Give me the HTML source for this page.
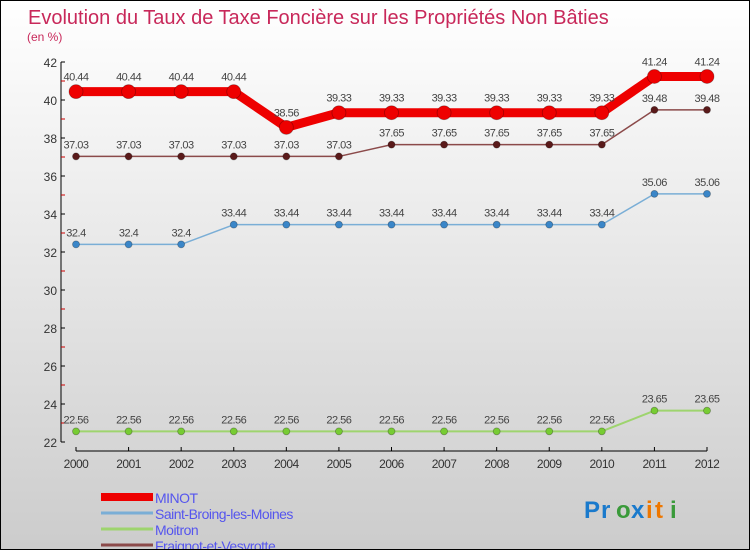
<!DOCTYPE html>
<html><head><meta charset="utf-8"><style>
body{margin:0}
#c{width:748px;height:548px;border:1px solid #000;background:linear-gradient(#fff,#f0f0f0 30%,#ccc);position:relative;font-family:"Liberation Sans",sans-serif;overflow:hidden}
</style></head><body>
<div id="c">
<svg id="s" width="748" height="548"></svg>
</div>
<script>
const years=[2000,2001,2002,2003,2004,2005,2006,2007,2008,2009,2010,2011,2012];
const minot=[40.44,40.44,40.44,40.44,38.56,39.33,39.33,39.33,39.33,39.33,39.33,41.24,41.24];
const stBroing=[32.4,32.4,32.4,33.44,33.44,33.44,33.44,33.44,33.44,33.44,33.44,35.06,35.06];
const moitron=[22.56,22.56,22.56,22.56,22.56,22.56,22.56,22.56,22.56,22.56,22.56,23.65,23.65];
const fraignot=[37.03,37.03,37.03,37.03,37.03,37.03,37.65,37.65,37.65,37.65,37.65,39.48,39.48];
const yTicks=[22,24,26,28,30,32,34,36,38,40,42];
const series=[
 {name:'Fraignot-et-Vesvrotte',vals:fraignot,color:'#8b4a4a',w:1.5,dot:'#5a1a1a',r:3.5},
 {name:'Moitron',vals:moitron,color:'#9ed46e',w:2,dot:'#77cc33',r:3.5},
 {name:'Saint-Broing-les-Moines',vals:stBroing,color:'#7aaed6',w:1.5,dot:'#3a86c8',r:3.5},
 {name:'MINOT',vals:minot,color:'#ee0000',w:9,dot:'#ee0000',r:7}
];
const legend=['MINOT','Saint-Broing-les-Moines','Moitron','Fraignot-et-Vesvrotte'];
const legColors=['#ee0000','#7aaed6','#9ed46e','#8b4a4a'];
const NS='http://www.w3.org/2000/svg';
const s=document.getElementById('s');
const X=i=>75+i*(631/12);
const Y=v=>441-(v-22)*19;
function el(t,a,txt){const e=document.createElementNS(NS,t);for(const k in a)e.setAttribute(k,a[k]);if(txt!==undefined)e.textContent=txt;s.appendChild(e);return e;}
let t=el('text',{x:27,y:23,'font-size':20,fill:'#c8285a'},'Evolution du Taux de Taxe Foncière sur les Propriétés Non Bâties');

t=el('text',{x:26,y:40,'font-size':12,fill:'#c8285a'},'(en %)');

let a=el('line',{x1:60,y1:61,x2:60,y2:441,stroke:'#000','stroke-width':1});

a=el('line',{x1:75,y1:450,x2:706,y2:450,stroke:'#000','stroke-width':1});

yTicks.forEach(v=>{
 el('line',{x1:60,y1:Y(v),x2:64,y2:Y(v),stroke:'#000'});
 el('line',{x1:60,y1:Y(v+1),x2:64,y2:Y(v+1),stroke:v<42?'#c00':'none'});
 let l=el('text',{x:56,y:Y(v)+5,'font-size':12,fill:'#333','text-anchor':'end'},v);
 
});
years.forEach((yr,i)=>{
 el('line',{x1:X(i),y1:446,x2:X(i),y2:450,stroke:'#000'});
 let l=el('text',{x:X(i),y:467,'font-size':12,fill:'#333','text-anchor':'middle','letter-spacing':'-0.5'},yr);
 
});
series.forEach(sr=>{
 let p=el('polyline',{points:sr.vals.map((v,i)=>X(i)+','+Y(v)).join(' '),fill:'none',stroke:sr.color,'stroke-width':sr.w,'stroke-linejoin':'round'});
 
 sr.vals.forEach((v,i)=>{
  let c=el('circle',{cx:X(i),cy:Y(v),r:sr.r,fill:sr.dot,stroke:'rgba(0,0,0,0.3)','stroke-width':0.8});
  
  let l=el('text',{x:X(i),y:Y(v)-(sr.r>5?11:8),'font-size':11,fill:'#444','text-anchor':'middle','letter-spacing':'-0.5'},v);
  
 });
});
legend.forEach((n,i)=>{
 const y=496+i*16;
 let r=el('rect',{x:100,y:y-(i==0?4:1.5),width:52,height:i==0?8:3,fill:legColors[i]});
 
 let l=el('text',{x:154,y:y+6,'font-size':14,fill:'#5555ee','letter-spacing':'-0.5'},n);
 
});
const logo=[['P','#1a7acc'],['r','#1a7acc'],['o','#3a9a3a'],['x','#1a7acc'],['i','#ee7700'],['t','#ee7700'],['i','#3a9a3a']];
let lx=583;
logo.forEach(([ch,col])=>{let l=el('text',{x:lx,y:517,'font-size':24,'font-weight':'bold',fill:col},ch);lx+= ch=='i'?9:(ch=='P'?17:15);});
</script>
</body></html>
